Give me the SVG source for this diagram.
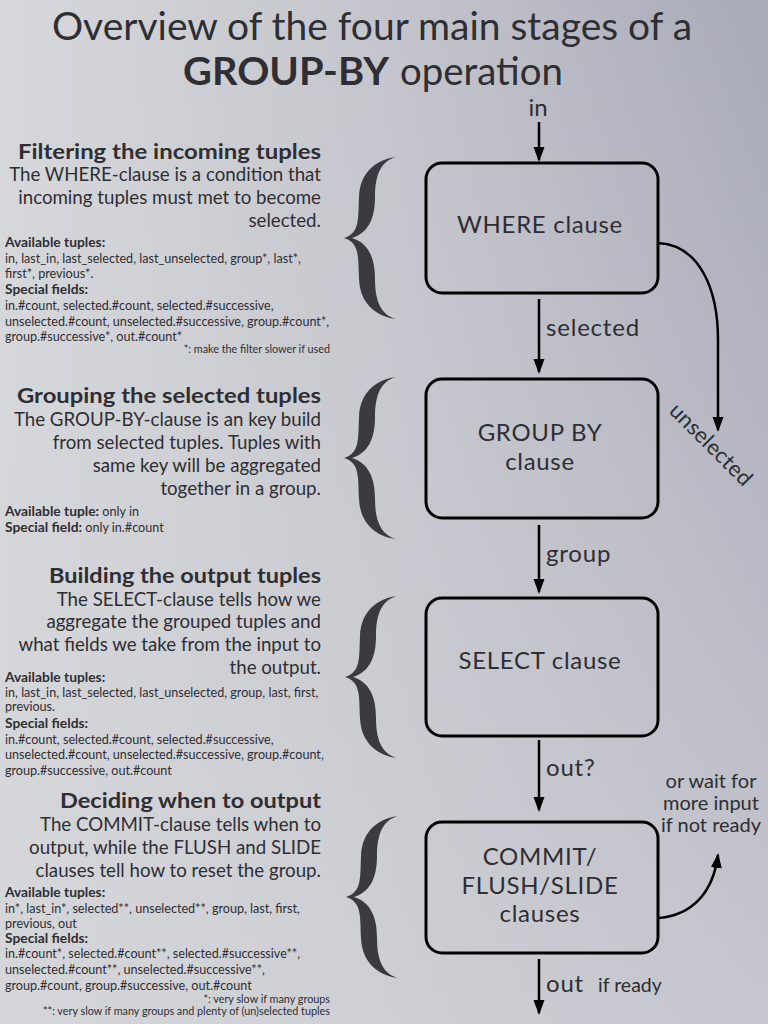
<svg xmlns="http://www.w3.org/2000/svg" width="768" height="1024" viewBox="0 0 768 1024">
<defs>
<linearGradient id="bgH" x1="0" y1="0" x2="1" y2="0">
<stop offset="0" stop-color="#d7d8dc"/>
<stop offset="0.5" stop-color="#c4c5cc"/>
<stop offset="1" stop-color="#a9aab9"/>
</linearGradient>
<linearGradient id="bgV" x1="0" y1="0" x2="0" y2="1">
<stop offset="0" stop-color="#d4d5d9" stop-opacity="0"/>
<stop offset="1" stop-color="#d4d5d9" stop-opacity="0.65"/>
</linearGradient>
<marker id="ah" markerUnits="userSpaceOnUse" markerWidth="16" markerHeight="12" refX="13" refY="5.5" orient="auto">
<path d="M0,0 L15,5.5 L0,11 Z" fill="#000"/>
</marker>
<path id="brace" d="M52,0 C34,2 16,14 15,40 C14,62 16,76 0,81 C16,86 14,100 15,122 C16,148 34,160 52,162 C38,158 31,146 31,122 C31,100 24,86 8,81 C24,76 31,62 31,40 C31,16 38,4 52,0 Z"/>
</defs>
<style>
text { font-family: "Lato", "Liberation Sans", sans-serif; fill: #2e2e33; }
.title { font-size: 38px; }
.head { font-size: 21px; font-weight: bold; text-anchor: end; }
.body { font-size: 18.7px; text-anchor: end; }
.small { font-size: 12.6px; }
.small .b { font-weight: bold; font-size: 13.8px; }
.note { font-size: 10.8px; text-anchor: end; }
.lbl { font-size: 24px; letter-spacing: 0.8px; }
.node rect { fill: none; stroke: #000; stroke-width: 3; }
.node text { font-size: 24px; letter-spacing: 0.7px; text-anchor: middle; }
.conn path { fill: none; stroke: #000; stroke-width: 2.5; marker-end: url(#ah); }
.brace { fill: #3a3a40; }
.aside { font-size: 20px; text-anchor: middle; }
</style>
<rect x="0" y="0" width="768" height="1024" fill="url(#bgH)"/>
<rect x="0" y="0" width="768" height="1024" fill="url(#bgV)"/>

<g id="title">
<text class="title" x="52" y="40" textLength="640" lengthAdjust="spacingAndGlyphs">Overview of the four main stages of a</text>
<text class="title" x="183" y="85" font-weight="bold" textLength="206" lengthAdjust="spacingAndGlyphs">GROUP-BY</text>
<text class="title" x="400" y="85" textLength="163" lengthAdjust="spacingAndGlyphs">operation</text>
</g>

<g id="braces" class="brace">
<use href="#brace" transform="translate(344,157)"/>
<use href="#brace" transform="translate(344,377)"/>
<use href="#brace" transform="translate(345,596)"/>
<use href="#brace" transform="translate(346,816)"/>
</g>

<g id="desc-filter">
<text class="head" x="321" y="159" textLength="303" lengthAdjust="spacingAndGlyphs">Filtering the incoming tuples</text>
<text class="body" x="321" y="181">The WHERE-clause is a condition that</text>
<text class="body" x="321" y="204">incoming tuples must met to become</text>
<text class="body" x="321" y="227">selected.</text>
<text class="small" x="5" y="247"><tspan class="b">Available tuples:</tspan></text>
<text class="small" x="5" y="263">in, last_in, last_selected, last_unselected, group*, last*,</text>
<text class="small" x="5" y="278">first*, previous*.</text>
<text class="small" x="5" y="294"><tspan class="b">Special fields:</tspan></text>
<text class="small" x="5" y="310">in.#count, selected.#count, selected.#successive,</text>
<text class="small" x="5" y="326">unselected.#count, unselected.#successive, group.#count*,</text>
<text class="small" x="5" y="341">group.#successive*, out.#count*</text>
<text class="note" x="330" y="353">*: make the filter slower if used</text>
</g>

<g id="desc-group">
<text class="head" x="321" y="403" textLength="304" lengthAdjust="spacingAndGlyphs">Grouping the selected tuples</text>
<text class="body" x="321" y="426">The GROUP-BY-clause is an key build</text>
<text class="body" x="321" y="449">from selected tuples. Tuples with</text>
<text class="body" x="321" y="472">same key will be aggregated</text>
<text class="body" x="321" y="495">together in a group.</text>
<text class="small" x="5" y="516"><tspan class="b">Available tuple:</tspan> only in</text>
<text class="small" x="5" y="532"><tspan class="b">Special field:</tspan> only in.#count</text>
</g>

<g id="desc-select">
<text class="head" x="321" y="583" textLength="272" lengthAdjust="spacingAndGlyphs">Building the output tuples</text>
<text class="body" x="321" y="606">The SELECT-clause tells how we</text>
<text class="body" x="321" y="628">aggregate the grouped tuples and</text>
<text class="body" x="321" y="651">what fields we take from the input to</text>
<text class="body" x="321" y="674">the output.</text>
<text class="small" x="5" y="682"><tspan class="b">Available tuples:</tspan></text>
<text class="small" x="5" y="697">in, last_in, last_selected, last_unselected, group, last, first,</text>
<text class="small" x="5" y="711">previous.</text>
<text class="small" x="5" y="728"><tspan class="b">Special fields:</tspan></text>
<text class="small" x="5" y="744">in.#count, selected.#count, selected.#successive,</text>
<text class="small" x="5" y="759">unselected.#count, unselected.#successive, group.#count,</text>
<text class="small" x="5" y="775">group.#successive, out.#count</text>
</g>

<g id="desc-commit">
<text class="head" x="321" y="808" textLength="261" lengthAdjust="spacingAndGlyphs">Deciding when to output</text>
<text class="body" x="321" y="831">The COMMIT-clause tells when to</text>
<text class="body" x="321" y="854">output, while the FLUSH and SLIDE</text>
<text class="body" x="321" y="877">clauses tell how to reset the group.</text>
<text class="small" x="5" y="897"><tspan class="b">Available tuples:</tspan></text>
<text class="small" x="5" y="913">in*, last_in*, selected**, unselected**, group, last, first,</text>
<text class="small" x="5" y="928">previous, out</text>
<text class="small" x="5" y="943"><tspan class="b">Special fields:</tspan></text>
<text class="small" x="5" y="958">in.#count*, selected.#count**, selected.#successive**,</text>
<text class="small" x="5" y="974">unselected.#count**, unselected.#successive**,</text>
<text class="small" x="5" y="990">group.#count, group.#successive, out.#count</text>
<text class="note" x="330" y="1003">*: very slow if many groups</text>
<text class="note" x="330" y="1015">**: very slow if many groups and plenty of (un)selected tuples</text>
</g>

<g id="node-where" class="node">
<rect x="426" y="163" width="232" height="130" rx="16"/>
<text x="540" y="233">WHERE clause</text>
</g>
<g id="node-groupby" class="node">
<rect x="426" y="379" width="232" height="139" rx="16"/>
<text x="540" y="441">GROUP BY</text>
<text x="540" y="470">clause</text>
</g>
<g id="node-select" class="node">
<rect x="426" y="598" width="232" height="138" rx="16"/>
<text x="540" y="669">SELECT clause</text>
</g>
<g id="node-commit" class="node">
<rect x="426" y="822" width="232" height="131" rx="16"/>
<text x="540" y="865">COMMIT/</text>
<text x="540" y="894">FLUSH/SLIDE</text>
<text x="540" y="922">clauses</text>
</g>

<g id="connectors" class="conn">
<path d="M539,122 L539,160"/>
<path d="M539,299 L539,372"/>
<path d="M539,525 L539,592"/>
<path d="M539,740 L539,810"/>
<path d="M539,959 L539,1013"/>
<path d="M658,243 C700,245 718,290 718,340 L718,430"/>
<path d="M659,918 C692,915 713,893 718,855"/>
</g>

<g id="labels">
<text x="538" y="116" font-size="24" text-anchor="middle">in</text>
<text class="lbl" x="546" y="336">selected</text>
<text class="lbl" x="546" y="562">group</text>
<text class="lbl" x="546" y="776">out?</text>
<text class="lbl" x="546" y="992" font-size="27">out</text>
<text x="598" y="992" font-size="19.5">if ready</text>
<text transform="translate(668,412) rotate(45)" font-size="22" letter-spacing="0.2">unselected</text>
<text class="aside" x="711" y="788">or wait for</text>
<text class="aside" x="711" y="810">more input</text>
<text class="aside" x="711" y="832">if not ready</text>
</g>
</svg>
